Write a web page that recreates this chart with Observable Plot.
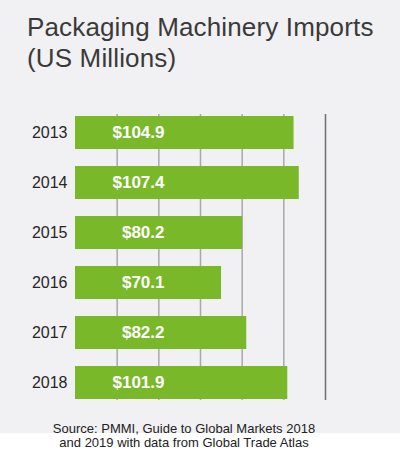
<!DOCTYPE html>
<html>
<head>
<meta charset="utf-8">
<script src="https://cdn.jsdelivr.net/npm/d3@7"></script>
<script src="https://cdn.jsdelivr.net/npm/@observablehq/plot@0.6"></script>
<style>
  html, body { margin: 0; padding: 0; background: #ffffff; }
  #wrap { position: relative; width: 400px; height: 459px; overflow: hidden; font-family: "Liberation Sans", Arial, sans-serif; }
  #bg { position: absolute; left: 0; top: 0; width: 400px; height: 433px; background: #f1f1f3; }
  #title { position: absolute; left: 27px; top: 12px; font-size: 26px; line-height: 31px; color: #3a3a3a; letter-spacing: 0.15px; }
  #chart { position: absolute; left: 0; top: 100px; }
  #source { position: absolute; left: 0; top: 422px; width: 368px; text-align: center; font-size: 13px; line-height: 14px; color: #222; }
</style>
</head>
<body>
<div id="wrap">
  <div id="bg"></div>
  <div id="title">Packaging Machinery Imports<br>(US Millions)</div>
  <div id="chart"></div>
  <div id="source">Source: PMMI, Guide to Global Markets 2018<br>and 2019 with data from Global Trade Atlas</div>
</div>
<script>
const years = ["2013", "2014", "2015", "2016", "2017", "2018"];
const values = [104.9, 107.4, 80.2, 70.1, 82.2, 101.9];
const labels = ["$104.9", "$107.4", "$80.2", "$70.1", "$82.2", "$101.9"];
const gridTicks = [20, 40, 60, 80, 100];
const edgeTick = [120];

const data = years.map((y, i) => ({year: y, value: values[i], label: labels[i]}));

const chart = Plot.plot({
  width: 400,
  height: 310,
  marginTop: 14,
  marginBottom: 10,
  marginLeft: 75,
  marginRight: 75,
  style: {background: "transparent", fontFamily: "Liberation Sans, Arial, sans-serif"},
  x: {domain: [0, 120], axis: null},
  y: {domain: years, paddingInner: 0.34, paddingOuter: 0, label: null},
  marks: [
    Plot.ruleX(gridTicks, {stroke: "#a9a9ad", strokeWidth: 1.5}),
    Plot.ruleX(edgeTick, {stroke: "#6f6f72", strokeWidth: 1.5}),
    Plot.barX(data, {y: "year", x: "value", fill: "#79b829"}),
    Plot.axisY({tickSize: 0, tickPadding: 8, fontSize: 16, fill: "#262626", label: null}),
    Plot.text(data, {y: "year", text: "label", frameAnchor: "left", dx: 89, textAnchor: "end", fill: "#ffffff", fontSize: 17, fontWeight: "bold"})
  ]
});
document.getElementById("chart").appendChild(chart);
</script>
</body>
</html>
